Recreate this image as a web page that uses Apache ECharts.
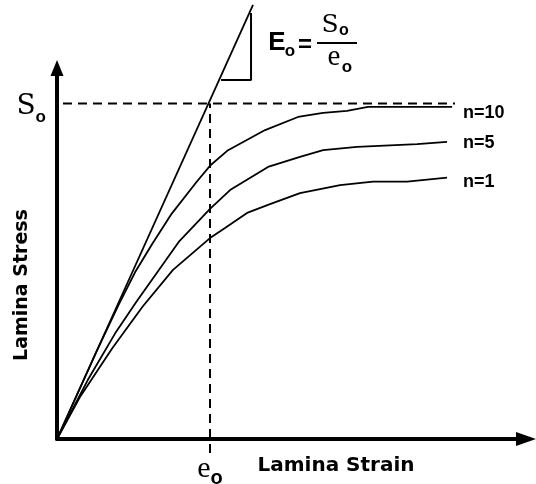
<!DOCTYPE html>
<html>
<head>
<meta charset="utf-8">
<script src="https://cdn.jsdelivr.net/npm/echarts@6/dist/echarts.min.js"></script>
<style>
  html, body { margin: 0; padding: 0; background: #ffffff; }
  #chart { width: 536px; height: 484px; }
</style>
</head>
<body>
<div id="chart"></div>
<script>
// strain in units of e_o, stress in units of S_o
const strainN10 = [0, 0.26, 0.40, 0.51, 0.62, 0.75, 0.913, 1.005, 1.118, 1.36, 1.575, 1.739, 1.895, 2.033, 2.582];
const stressN10 = [0, 0.263, 0.398, 0.497, 0.58, 0.672, 0.767, 0.817, 0.861, 0.921, 0.960, 0.972, 0.978, 0.990, 0.990];

const strainN5 = [0, 0.2, 0.38, 0.52, 0.652, 0.80, 1.0, 1.131, 1.379, 1.588, 1.739, 1.961, 2.353, 2.549];
const stressN5 = [0, 0.175, 0.315, 0.41, 0.495, 0.59, 0.686, 0.742, 0.811, 0.841, 0.861, 0.871, 0.879, 0.886];

const strainN1 = [0, 0.15, 0.36, 0.56, 0.758, 1.0, 1.098, 1.242, 1.392, 1.588, 1.850, 2.065, 2.288, 2.549];
const stressN1 = [0, 0.125, 0.27, 0.395, 0.504, 0.599, 0.629, 0.674, 0.700, 0.733, 0.757, 0.767, 0.767, 0.779];

// initial modulus line E_o = S_o / e_o and its slope triangle
const modulusStrain = [0, 1.281];
const modulusStress = [0, 1.294];
const triStrain = [1.072, 1.268, 1.268];
const triStress = [1.070, 1.070, 1.270];

// reference guides at S_o and e_o
const soGuideStrain = [-0.059, 2.601];
const eoGuideStress = [-0.042, 1];

const seriesNames = ['n=10', 'n=5', 'n=1'];
const refTicks = [1];

const zip = (xs, ys) => xs.map((x, i) => [x, ys[i]]);

const chart = echarts.init(document.getElementById('chart'), null, { renderer: 'canvas' });

const SANS = '"Liberation Sans", Arial, sans-serif';
const WIDE_SANS = '"DejaVu Sans", Verdana, sans-serif';
const SERIF = '"Liberation Serif", "Times New Roman", serif';
const WIDE_SERIF = '"DejaVu Serif", Georgia, serif';

const curveStyle = { color: '#000', width: 1.8 };
const makeEndLabel = (distance, dy) => ({
  show: true,
  formatter: '{a}',
  color: '#000',
  fontFamily: SANS,
  fontWeight: 'bold',
  fontSize: 18,
  distance: distance,
  offset: [0, dy],
});

const option = {
  backgroundColor: '#ffffff',
  animation: false,
  grid: { left: 57, top: 68, width: 469, height: 371, containLabel: false, outerBoundsMode: 'none' },
  xAxis: {
    type: 'value',
    min: 0,
    max: 3.065,
    splitLine: { show: false },
    axisTick: { show: false },
    axisLine: {
      lineStyle: { color: '#000', width: 4 },
      symbol: ['none', 'triangle'],
      symbolSize: [14, 20],
    },
    axisLabel: {
      customValues: refTicks,
      margin: 15,
      formatter: () => '{e|e}{o|o}',
      rich: {
        e: { fontFamily: SERIF, fontSize: 30, color: '#000', lineHeight: 30, verticalAlign: 'top' },
        o: { fontFamily: SANS, fontWeight: 'bold', fontSize: 20, color: '#000', lineHeight: 16, verticalAlign: 'top', padding: [14, 0, 0, 0] },
      },
    },
  },
  yAxis: {
    type: 'value',
    min: 0,
    max: 1.106,
    splitLine: { show: false },
    axisTick: { show: false },
    axisLine: {
      lineStyle: { color: '#000', width: 4 },
      symbol: ['none', 'triangle'],
      symbolSize: [13, 16],
    },
    axisLabel: {
      customValues: refTicks,
      margin: 11,
      formatter: () => '{s|S}{o|o}',
      rich: {
        s: { fontFamily: WIDE_SERIF, fontSize: 28, color: '#000', lineHeight: 34, verticalAlign: 'top', padding: [6, 0, 0, 0] },
        o: { fontFamily: SANS, fontWeight: 'bold', fontSize: 17, color: '#000', lineHeight: 16, verticalAlign: 'top', padding: [22, 0, 0, 0] },
      },
    },
  },
  series: [
    {
      name: 'S_o guide',
      type: 'line',
      data: zip(soGuideStrain, [1, 1]),
      showSymbol: false,
      clip: false,
      silent: true,
      lineStyle: { color: '#000', width: 2, type: [9, 6] },
    },
    {
      name: 'e_o guide',
      type: 'line',
      data: zip([1, 1], eoGuideStress),
      showSymbol: false,
      clip: false,
      silent: true,
      lineStyle: { color: '#000', width: 2, type: [9, 6] },
    },
    {
      name: 'E_o',
      type: 'line',
      data: zip(modulusStrain, modulusStress),
      showSymbol: false,
      clip: false,
      lineStyle: curveStyle,
    },
    {
      name: 'slope',
      type: 'line',
      data: zip(triStrain, triStress),
      showSymbol: false,
      clip: false,
      lineStyle: { color: '#000', width: 2 },
    },
    {
      name: seriesNames[0],
      type: 'line',
      data: zip(strainN10, stressN10),
      showSymbol: false,
      lineStyle: curveStyle,
      endLabel: makeEndLabel(11, 6),
    },
    {
      name: seriesNames[1],
      type: 'line',
      data: zip(strainN5, stressN5),
      showSymbol: false,
      lineStyle: curveStyle,
      endLabel: makeEndLabel(16, 1),
    },
    {
      name: seriesNames[2],
      type: 'line',
      data: zip(strainN1, stressN1),
      showSymbol: false,
      lineStyle: curveStyle,
      endLabel: makeEndLabel(16, 4),
    },
  ],
  graphic: [
    // axis titles
    {
      type: 'text', x: 22, y: 285, rotation: Math.PI / 2,
      style: { text: 'Lamina Stress', fill: '#000', font: 'bold 19px ' + WIDE_SANS, align: 'center', verticalAlign: 'middle' },
    },
    {
      type: 'text', x: 336, y: 466,
      style: { text: 'Lamina Strain', fill: '#000', font: 'bold 20px ' + WIDE_SANS, align: 'center', verticalAlign: 'middle' },
    },
    // E_o = S_o / e_o
    { type: 'text', x: 277, y: 43, style: { text: 'E', fill: '#000', font: 'bold 26px ' + SANS, align: 'center', verticalAlign: 'middle' } },
    { type: 'text', x: 290, y: 51, style: { text: 'o', fill: '#000', font: 'bold 17px ' + SANS, align: 'center', verticalAlign: 'middle' } },
    { type: 'text', x: 305, y: 45, style: { text: '=', fill: '#000', font: 'bold 24px ' + SANS, align: 'center', verticalAlign: 'middle' } },
    { type: 'line', shape: { x1: 317, y1: 43, x2: 357, y2: 43 }, style: { stroke: '#000', lineWidth: 2 } },
    { type: 'text', x: 330, y: 25, style: { text: 'S', fill: '#000', font: '25px ' + WIDE_SERIF, align: 'center', verticalAlign: 'middle' } },
    { type: 'text', x: 344, y: 31, style: { text: 'o', fill: '#000', font: 'bold 16px ' + SANS, align: 'center', verticalAlign: 'middle' } },
    { type: 'text', x: 334, y: 57, style: { text: 'e', fill: '#000', font: '29px ' + SERIF, align: 'center', verticalAlign: 'middle' } },
    { type: 'text', x: 347, y: 67, style: { text: 'o', fill: '#000', font: 'bold 17px ' + SANS, align: 'center', verticalAlign: 'middle' } },
  ],
};

chart.setOption(option);
</script>
</body>
</html>
